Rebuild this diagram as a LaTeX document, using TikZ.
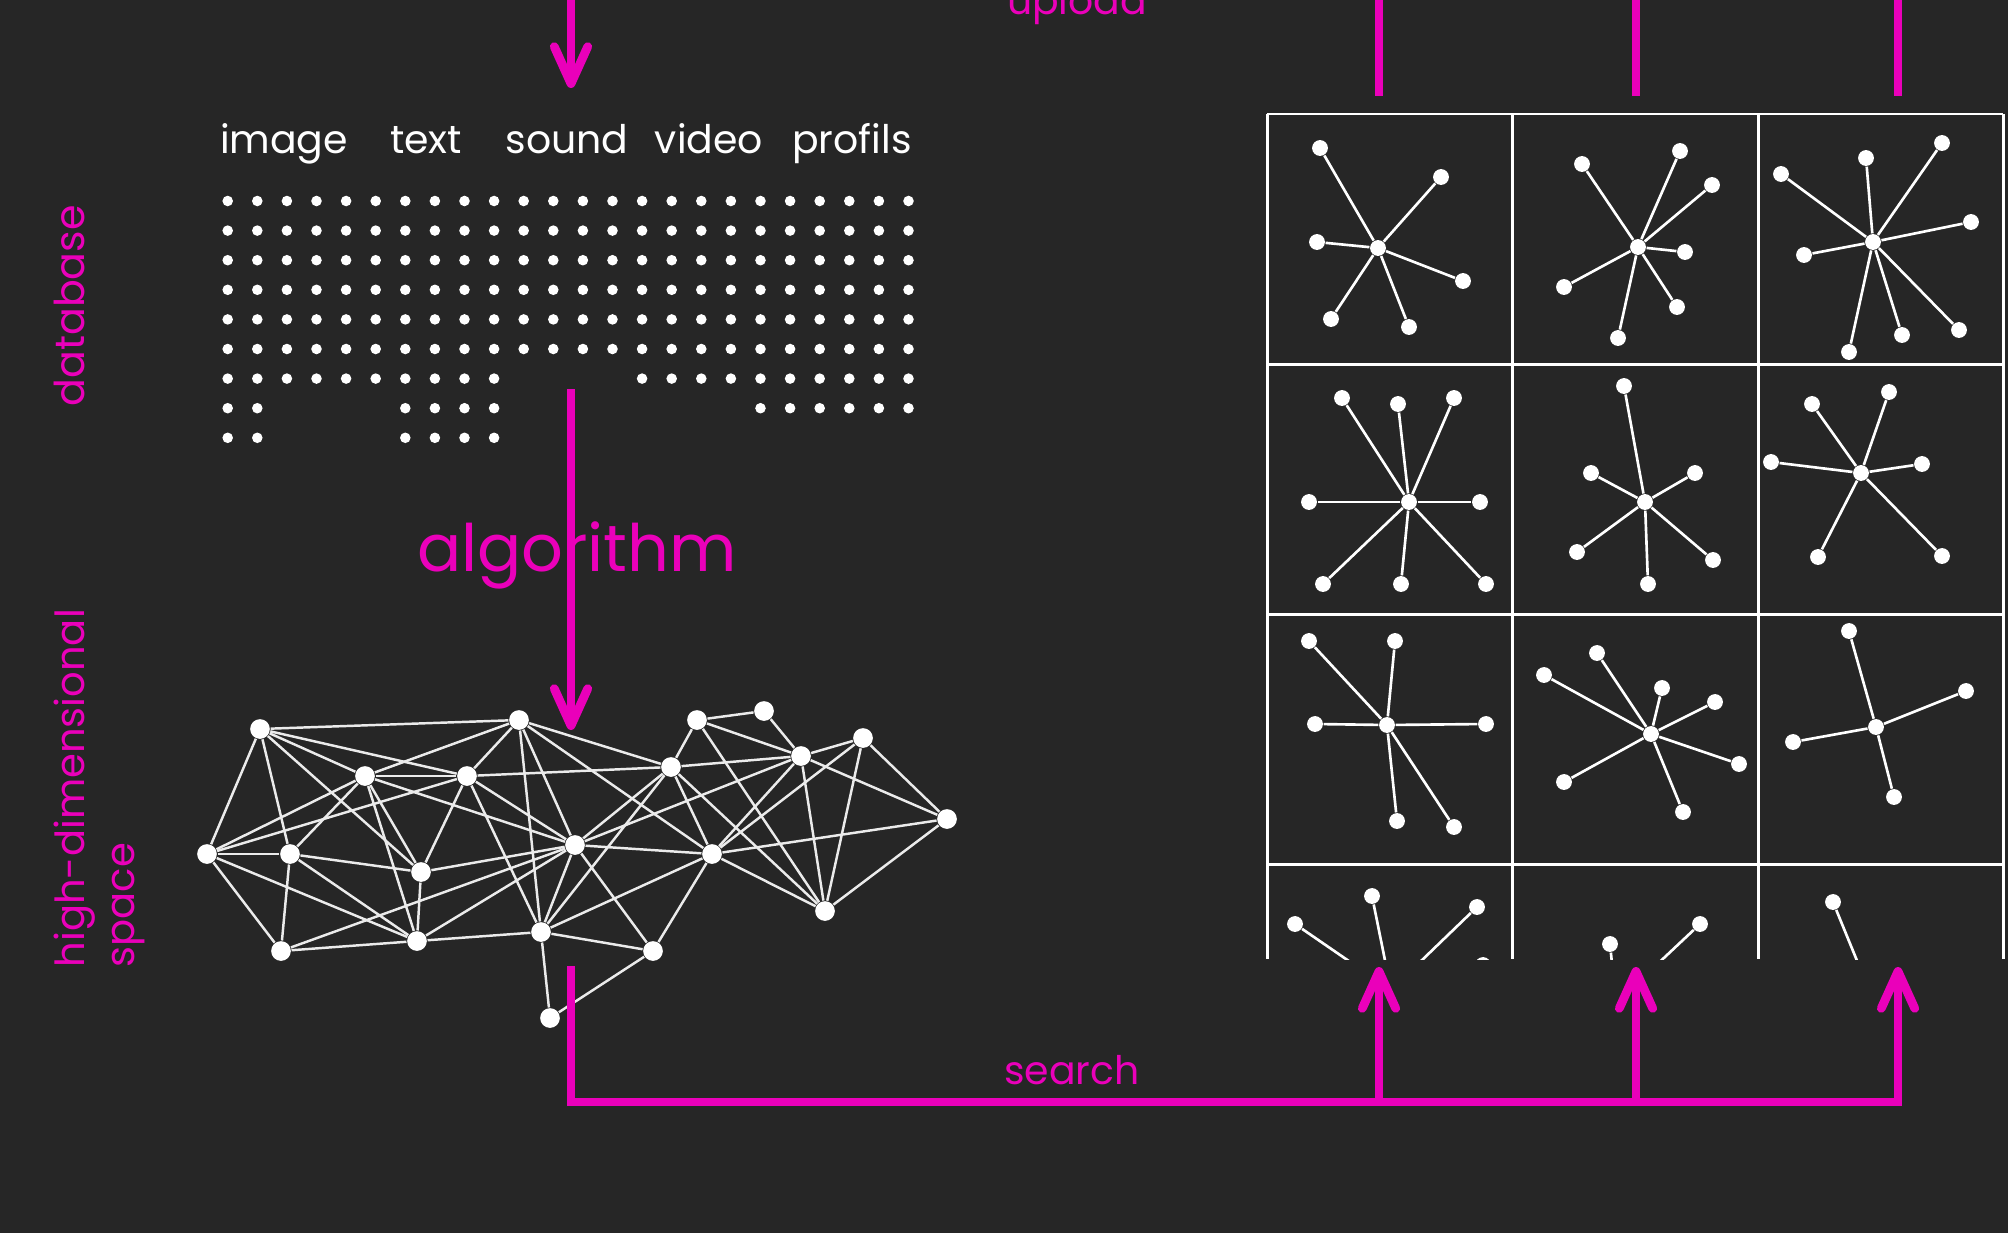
\documentclass[tikz,border=0pt]{standalone}
\usepackage{fontspec}
\setmainfont{Poppins}
\usepackage{tikz}
\usetikzlibrary{arrows.meta}
\definecolor{bgdark}{RGB}{38,38,38}
\definecolor{hotpink}{RGB}{234,0,186}

% one star graph: name, hub x, hub y, leaves x/y
\newcommand{\starcell}[4]{%
  \node[sdot] (#1) at (#2,#3) {};
  \foreach \lx/\ly [count=\k] in {#4} {
    \node[sdot] (#1-\k) at (\lx,\ly) {};
    \draw[spoke] (#1) -- (#1-\k);
  }}

\begin{document}
\begin{tikzpicture}[
  x=0.01cm, y=-0.01cm,
  lbl/.style={text=white, font=\fontsize{11.2}{14}\selectfont, inner sep=0},
  pinklbl/.style={text=hotpink, font=\fontsize{11.2}{14}\selectfont, inner sep=0},
  arr/.style={draw=hotpink, line width=2.5pt, -{Straight Barb[length=10.5pt, width=9.5pt, round]}},
  feed/.style={draw=hotpink, line width=2.5pt},
  gdot/.style={circle, fill=white, inner sep=0, minimum size=5.6pt},
  sdot/.style={circle, fill=white, inner sep=0, minimum size=4.5pt},
  edge/.style={draw=white!92!black, line width=0.7pt},
  spoke/.style={draw=white, line width=0.75pt},
  cellline/.style={draw=white, line width=0.85pt}
]
\useasboundingbox (0,0) rectangle (2008,1233);
\fill[bgdark] (0,0) rectangle (2008,1233);

% side labels
\node[pinklbl, rotate=90, anchor=north west, font=\fontsize{11.7}{14}\selectfont] (dblbl) at (53,407) {database};
\node[pinklbl, rotate=90, anchor=north west, align=left, font=\fontsize{11.4}{14.2}\selectfont] (hdlbl) at (53,968) {high-dimensional\\space};

% data types
\node[lbl, anchor=base] (image) at (284,153) {image};
\node[lbl, anchor=base] (text) at (426,153) {text};
\node[lbl, anchor=base] (sound) at (567,153) {sound};
\node[lbl, anchor=base] (video) at (709,153) {video};
\node[lbl, anchor=base] (profils) at (852,153) {profils};

% database dots
\foreach \r in {0,...,5}
  \foreach \c in {0,...,23}
    \fill[white] ({227.7+29.6*\c},{201+29.6*\r}) circle[radius=1.5pt];
\foreach \c in {0,1,2,3,4,5,6,7,8,9,14,15,16,17,18,19,20,21,22,23}
  \fill[white] ({227.7+29.6*\c},{201+29.6*6}) circle[radius=1.5pt];
\foreach \c in {0,1,6,7,8,9,18,19,20,21,22,23}
  \fill[white] ({227.7+29.6*\c},{201+29.6*7}) circle[radius=1.5pt];
\foreach \c in {0,1,6,7,8,9}
  \fill[white] ({227.7+29.6*\c},{201+29.6*8}) circle[radius=1.5pt];

\node[pinklbl, anchor=base, font=\fontsize{18.6}{22}\selectfont] (algo) at (577,571) {algorithm};

% high-dimensional space
\node[gdot] (a) at (260,729) {};
\node[gdot] (b) at (519,720) {};
\node[gdot] (c) at (697,720) {};
\node[gdot] (d) at (764,711) {};
\node[gdot] (e) at (863,738) {};
\node[gdot] (f) at (801,756) {};
\node[gdot] (g) at (671,767) {};
\node[gdot] (h) at (365,776) {};
\node[gdot] (i) at (467,776) {};
\node[gdot] (j) at (947,819) {};
\node[gdot] (k) at (207,854) {};
\node[gdot] (l) at (290,854) {};
\node[gdot] (m) at (575,845) {};
\node[gdot] (n) at (712,854) {};
\node[gdot] (o) at (421,872) {};
\node[gdot] (p) at (825,911) {};
\node[gdot] (q) at (281,951) {};
\node[gdot] (r) at (417,941) {};
\node[gdot] (s) at (541,932) {};
\node[gdot] (t) at (653,951) {};
\node[gdot] (u) at (550,1018) {};
\foreach \u/\v in {a/b, a/k, a/l, a/h, a/i, a/o,
    h/i, h/b, h/k, h/l, h/o, h/r, h/m,
    i/b, i/k, i/o, i/m, i/s, i/g,
    k/l, k/q, k/r, l/o, l/r, l/q,
    o/m, o/r, q/r, q/m, r/s, r/m,
    b/s, b/m, b/n, b/g,
    c/d, c/g, c/f, c/p, d/f,
    e/f, e/j, e/p, e/n,
    f/g, f/j, f/p, f/n, f/m,
    g/m, g/s, g/n, g/p, j/n, j/p,
    m/n, m/s, m/t, n/p, n/t, n/s,
    s/t, s/u, t/u}
  \draw[edge] (\u) -- (\v);

% results grid
\foreach \gy in {114,364,614,864}
  \draw[cellline] (1267,\gy) -- (2003,\gy);
\foreach \gx in {1267,1512,1758,2003}
  \draw[cellline] (\gx,114) -- (\gx,959);

\starcell{s1}{1378}{248}{1320/148,1441/177,1317/242,1463/281,1331/319,1409/327}
\starcell{s2}{1638}{247}{1582/164,1680/151,1712/185,1685/252,1564/287,1677/307,1618/338}
\starcell{s3}{1873}{242}{1781/174,1866/158,1942/143,1971/222,1804/255,1959/330,1902/335,1849/352}
\starcell{s4}{1409}{502}{1342/398,1398/404,1454/398,1309/502,1480/502,1323/584,1401/584,1486/584}
\starcell{s5}{1645}{502}{1624/386,1591/473,1695/473,1577/552,1713/560,1648/584}
\starcell{s6}{1861}{473}{1812/404,1889/392,1771/462,1922/464,1818/557,1942/556}
\starcell{s7}{1387}{725}{1309/641,1395/641,1315/724,1486/724,1397/821,1454/827}
\starcell{s8}{1651}{734}{1544/675,1597/653,1662/688,1715/702,1739/764,1564/782,1683/812}
\starcell{s9}{1876}{727}{1849/631,1966/691,1793/742,1894/797}
\begin{scope}
  \clip (1260,864) rectangle (2010,959);
  \starcell{s10}{1391}{990}{1295/924,1372/896,1477/907,1483/965}
  \starcell{s11}{1616}{1003}{1610/944,1700/924}
  \starcell{s12}{1869}{990}{1833/902}
\end{scope}

% flow arrows
\coordinate (in0) at (571,0);
\coordinate (dbtop) at (571,88);
\coordinate (dbbot) at (571,389);
\coordinate (hdtop) at (571,730);
\coordinate (hdbot) at (571,966);
\draw[arr] (in0) -- (dbtop);
\draw[arr] (dbbot) -- (hdtop);

\coordinate (sr1) at (1379,1102);
\coordinate (sr2) at (1636,1102);
\coordinate (sr3) at (1898,1102);
\coordinate (tp1) at (1379,967);
\coordinate (tp2) at (1636,967);
\coordinate (tp3) at (1898,967);
\draw[arr] (hdbot) |- (sr3) -- (tp3);
\draw[arr] (sr1) -- (tp1);
\draw[arr] (sr2) -- (tp2);
\node[pinklbl, anchor=base] (search) at (1072,1084) {search};

\foreach \ux [count=\k] in {1379,1636,1898} {
  \coordinate (ut\k) at (\ux,0);
  \coordinate (ub\k) at (\ux,96);
  \draw[feed] (ut\k) -- (ub\k);
}
\node[pinklbl, anchor=base] (upload) at (1077,14) {upload};
\end{tikzpicture}
\end{document}
